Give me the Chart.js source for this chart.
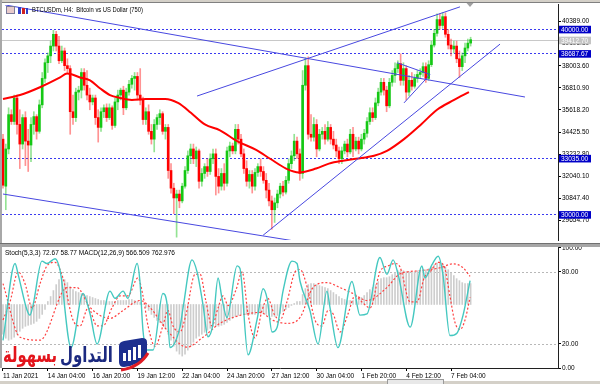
<!DOCTYPE html>
<html><head><meta charset="utf-8">
<script src="https://cdn.jsdelivr.net/npm/chart.js@4.4.1/dist/chart.umd.min.js"></script>
<style>
html,body{margin:0;padding:0;background:#fff;width:600px;height:384px;overflow:hidden;position:relative}
#c1{position:absolute;left:0;top:0;width:600px;height:245px}
#c2{position:absolute;left:0;top:243px;width:600px;height:141px}
</style></head><body>
<canvas id="c1" width="600" height="245"></canvas>
<canvas id="c2" width="600" height="141"></canvas>
<script>
// ---- price data (H4 candles, index 0 = 11 Jan 2021 12:00) ----
const openP = [34044,31506,33515,35366,34996,36265,34837,33779,35207,33938,
33726,34837,35260,34467,35895,37322,38168,38539,39067,39702,
39067,38274,38803,38010,37851,35524,35207,36582,36688,37640,
36952,36423,36053,36265,35207,34678,35524,35736,35207,35736,
34784,36053,36423,36688,35736,36582,37005,37322,37428,36423,
36159,35101,35524,34467,34044,34837,35207,35419,34467,34678,
32352,31400,30871,31083,30712,31506,32352,33145,33515,32986,
33409,31770,32193,32563,32299,32986,33251,32034,31506,32193,
31664,33409,33674,33409,34573,34044,33251,32457,31770,32140,
31506,32246,32563,32299,31823,31294,30712,30236,30607,31083,
31506,31188,31823,32722,33145,33938,33251,32193,36952,38010,
34308,34150,34837,33515,34308,34467,34044,34678,34044,33726,
33409,32986,33409,33779,33356,34308,33515,33938,33515,34044,
34361,34996,35472,35207,36000,36582,37111,36688,35842,37111,
37481,37851,38115,37217,37851,36582,37217,36899,37322,37534,
37640,37957,37322,38063,39120,39755,40495,40178,40654,39702,
39120,38909,39067,38380,37957,38539,38962,39226];
const highP = [34308,33779,35736,35630,36423,36423,35630,35366,35524,34573,
35207,35524,35366,36159,37640,38380,38697,39332,39913,39861,
39596,39067,38962,38380,38010,36423,36794,36899,37851,37851,
37745,36794,36423,36423,35630,35736,35895,35947,35947,35842,
36265,36688,36794,36899,36794,37217,37481,37640,37640,37851,
36318,35736,35895,34837,35101,35366,35630,35524,34837,34837,
32722,31664,31294,31294,31664,32563,33409,33779,33779,33621,
33515,32457,32722,32986,33251,33515,33515,32457,32457,32722,
33621,33885,33832,34837,34837,34308,33515,32880,32352,32352,
32457,32722,32986,32563,32193,31664,30977,30871,31294,31664,
31770,32034,32986,33409,34308,34150,33515,37745,38433,38486,
35366,35207,35101,34573,34678,34837,34996,34837,34467,34044,
33621,33621,33938,34044,34573,34678,34150,34150,34308,34573,
35207,35736,35736,36265,36794,37322,37322,36899,37322,37745,
38168,38274,38644,38168,38010,37481,37640,37534,37745,37851,
38168,38168,38274,39332,39966,40812,40812,40865,40865,39966,
39437,39332,39332,38803,38697,39226,39437,39543];
const lowP = [31400,30236,33251,34837,34837,34308,32457,33515,32616,32299,
32827,34308,34044,34361,35736,37111,37640,38168,38803,38803,
38115,38168,37745,37640,34308,34837,34996,36159,36265,36688,
36159,35630,35895,34837,33885,34467,35207,34996,35101,34573,
34678,35630,36159,35366,35630,36423,36794,36688,36159,35895,
34837,34837,34308,33779,33356,34573,34837,34308,34044,31929,
31135,30025,28756,30342,30607,31400,32193,32722,32722,32563,
31400,31506,31929,32034,32140,32722,31030,31135,31294,31294,
31506,33092,33251,33251,33779,33092,32193,31506,31400,31135,
31294,32034,32034,31664,30871,30448,29179,29549,30342,30871,
30977,31083,31664,32457,32880,32986,31823,31929,36688,34044,
33938,33938,33092,33409,34044,33779,33938,33779,33515,33092,
32722,32722,33251,33092,33251,33092,33409,33251,33409,33779,
34150,34837,34996,35101,35842,36423,36423,35524,35736,36899,
37111,37640,36952,36952,36159,36370,36688,36794,37111,37322,
37428,37111,37217,37957,39015,39596,39966,40019,39543,38909,
38539,38697,38168,37375,37745,38168,38803,39067];
const closeP = [31558,33515,35366,34996,36265,34837,33779,35207,33938,33726,
34837,35260,34467,35895,37322,38168,38539,39067,39702,39067,
38274,38803,38010,37851,35524,35207,36582,36688,37640,36952,
36423,36053,36265,35207,34678,35524,35736,35207,35736,34784,
36053,36423,36688,35736,36582,37005,37322,37428,36423,36159,
35101,35524,34467,34044,34837,35207,35419,34467,34678,32352,
31400,30871,31083,30712,31506,32352,33145,33515,32986,33409,
31770,32193,32563,32299,32986,33251,32034,31506,32193,31664,
33409,33674,33409,34573,34044,33251,32457,31770,32140,31506,
32246,32563,32299,31823,31294,30712,30236,30607,31083,31506,
31188,31823,32722,33145,33938,33251,32193,36952,38010,34308,
34150,34837,33515,34308,34467,34044,34678,34044,33726,33409,
32986,33409,33779,33356,34308,33515,33938,33515,34044,34361,
34996,35472,35207,36000,36582,37111,36688,35842,37111,37481,
37851,38115,37217,37851,36582,37217,36899,37322,37534,37640,
37957,37322,38063,39120,39755,40495,40178,40654,39702,39120,
38909,39067,38380,37957,38539,38962,39226,39412.7];

// moving average (red) read as points [candle index, price]
const maX = [0,6.1,13.2,20.4,22.9,27.5,31.1,34.6,38.2,41.8,46,51,57.9,62.5,67.1,72.1,77.5,83.6,90.4,95.4,101.1,105.7,111.8,116.4,121.4,126.1,132.5,137.1,143.2,149.3,155,161.1,166.4];
const maY = [36212,36423,36846,37375,37587,37375,37217,36794,36423,36265,36160,36210,36212,36000,35472,34837,34520,33938,33462,32986,32457,32246,32457,32722,32880,32986,33145,33409,34044,34837,35630,36159,36582];

// drawn trend lines [index1, price1, index2, price2]
const trendLines = [
  [0.7, 41288, 186.4, 36318],
  [0, 31083, 104.3, 28544],
  [92.9, 28861, 177.5, 39173],
  [69.3, 36370, 163.2, 41183],
  [140.7, 38168, 152.5, 37534],
  [143.2, 36000, 152.5, 37534]
];
const levelPrices = [40000.00, 38687.67, 33035.00, 30000.00];
const bidPrice = 39412.70;
const priceTicks = [40389.00, 39196.30, 38003.60, 36810.90, 35618.20, 34425.50, 33232.80, 32040.10, 30847.40, 29654.70];
const priceMin = 28597, priceMax = 41288;

// indicator data
const stochMainX = [0,4.3,5.4,8.6,9.6,10.7,13.9,15.7,18.6,20.4,24.3,28.6,31.1,33.6,38.2,40,42.9,44.6,47.9,48.9,50,51.4,53.6,57.1,58.6,59.6,63.2,64.3,67.5,69.3,71.4,73.2,75,76.8,78.2,80,83.6,84.6,87.5,90.7,92.9,94.3,96.1,97.9,100,103.2,105,106.1,109.6,112.5,115.7,116.8,119.6,124.6,127.5,130,134.6,137.1,139.3,141.1,145.4,149.6,150.7,153.2,155.4,157.1,159.6,162.1,164.3,166.8];
const stochMainY = [23,87,78,48,44,52,89,87,91,81,17,62,45,20,64,58,64,58,87,72,31,15,15,62,53,17,34,50,90,80,53,26,37,75,58,42,85,83,11,40,66,58,30,34,64,89,87,72,48,20,64,50,17,72,44,45,92,78,90,78,34,85,75,86,93,78,27,29,44,72.67];
const stochSigX = [0,2.5,5.4,7.9,10.4,13.2,15.7,18.6,21.4,25,27.5,30.4,33.6,35.7,38.9,41.8,44.6,48.2,50,51.8,54.3,57.1,58.9,60.7,63.2,65.4,68.6,70.4,72.5,74.6,76.8,78.6,80.4,83.2,85.4,87.5,90,92.5,94.6,96.8,98.9,101.4,104.3,106.1,108.9,111.4,113.9,116.1,117.9,120.4,123.2,125.7,128.2,131.1,134.6,137.5,140,141.8,145.4,147.9,150.4,152.5,155.4,157.5,159.6,161.4,163.2,165,166.8];
const stochSigY = [40,55,80,70,50,70,85,88,75,40,35,50,35,35,50,60,60,75,60,35,18,35,48,35,30,45,78,78,55,35,50,60,52,65,80,45,25,48,58,45,40,55,80,82,65,40,35,48,45,30,45,60,55,50,80,85,87,84,55,55,75,80,88,85,60,38,32,40,58.77];
const macdHist = [-810,-918,-972,-945,-891,-810,-729,-648,-594,-567,
-540,-513,-459,-378,-270,-135,81,216,378,540,
675,729,675,594,486,405,351,324,297,270,
243,216,189,162,135,108,108,81,81,81,
81,108,108,108,108,135,135,108,81,54,
0,-81,-162,-270,-351,-432,-486,-540,-648,-810,
-972,-1134,-1269,-1350,-1404,-1350,-1242,-1134,-1026,-918,
-864,-810,-756,-702,-648,-594,-594,-594,-567,-540,
-486,-432,-378,-324,-297,-270,-270,-270,-270,-270,
-270,-243,-243,-243,-270,-297,-324,-324,-297,-243,
-189,-135,-81,-27,27,81,81,270,432,540,
567,567,540,513,486,459,432,378,324,270,
216,162,135,108,108,108,135,162,189,243,
324,405,459,540,621,702,729,729,756,810,
864,918,918,918,891,891,891,891,918,918,
945,945,972,1026,1080,1134,1134,1107,1026,945,
864,783,702,648,594,567,567,566.509];
const macdSigX = [0,6.1,13.2,22.9,26.4,31.1,38.2,42.9,48.9,52.5,58.6,65.7,71.4,77.5,84.6,91.8,96.4,101.4,106.1,110.7,115.7,120.4,125,130,137.1,141.8,148.9,156.1,160.7,164.3,166.8];
const macdSigY = [567,-891,-972,459,459,-81,-378,-162,108,-81,-702,-1161,-891,-513,-297,-216,-432,-513,-351,459,594,459,297,108,459,837,918,999,1107,999,762.976];
const stochLevels = [80, 20];
const stochTicks = [100, 80, 20, 0];
const xTickIdx = [0,16,32,48,64,80,96,112,128,144,160];
const xTickLabels = ["11 Jan 2021","14 Jan 04:00","16 Jan 20:00","19 Jan 12:00","22 Jan 04:00","24 Jan 20:00","27 Jan 12:00","30 Jan 04:00","1 Feb 20:00","4 Feb 12:00","7 Feb 04:00"];
const titleText = "BTCUSDm, H4:  Bitcoin vs US Dollar (750)";
const indLabel = "Stoch(5,3,3) 72.67 58.77 MACD(12,26,9) 566.509 762.976";
const logoWords = ["التداول", "بسهولة"];

const xMin = -0.357, xMax = 198.2;
const FONT = '"Liberation Sans", Arial, sans-serif';
const idx = closeP.map((_, i) => i);
const isUp = idx.map(i => closeP[i] >= openP[i]);

function fitText(ctx, text, x, y, w, align) {
  const m = ctx.measureText(text).width;
  const s = w / m;
  ctx.save(); ctx.translate(x, y); ctx.scale(s, 1);
  ctx.textAlign = align || 'left'; ctx.fillText(text, 0, 0); ctx.restore();
}

const mainDeco = {
  id: 'mainDeco',
  beforeDatasetsDraw(chart) {
    const {ctx, chartArea: a, scales: {y}} = chart;
    ctx.save();
    ctx.beginPath(); ctx.rect(a.left, a.top, a.right - a.left, a.bottom - a.top); ctx.clip();
    let py = Math.round(y.getPixelForValue(bidPrice)) + 0.5;
    ctx.strokeStyle = '#c8c8c8'; ctx.lineWidth = 1;
    ctx.beginPath(); ctx.moveTo(a.left, py); ctx.lineTo(a.right, py); ctx.stroke();
    ctx.setLineDash([2, 2]); ctx.strokeStyle = '#3a3af0';
    levelPrices.forEach(p => {
      const yy = Math.round(y.getPixelForValue(p)) + 0.5;
      ctx.beginPath(); ctx.moveTo(a.left, yy); ctx.lineTo(a.right, yy); ctx.stroke();
    });
    ctx.restore();
  },
  afterDraw(chart) {
    const {ctx, scales: {y}} = chart;
    ctx.save();
    ctx.font = '6.5px ' + FONT; ctx.textBaseline = 'middle';
    const box = (p, bg, fg) => {
      const yy = y.getPixelForValue(p) + 0.8;
      ctx.fillStyle = bg; ctx.fillRect(559, yy - 3.8, 32, 7.6);
      ctx.fillStyle = fg; ctx.textAlign = 'left'; ctx.fillText(p.toFixed(2), 561, yy + 0.3);
    };
    box(bidPrice, '#c4c4c4', '#ffffff');
    levelPrices.forEach(p => box(p, '#0000c8', '#ffffff'));
    // frame
    ctx.fillStyle = '#d4d0c8'; ctx.fillRect(0, 0, 600, 2);
    ctx.fillStyle = '#808080'; ctx.fillRect(0, 2, 600, 1);
    ctx.fillStyle = '#a8a8a8'; ctx.fillRect(0, 0, 2, 245);
    // title icons
    ctx.fillStyle = '#e8caca'; ctx.fillRect(6, 6, 9, 8);
    ctx.strokeStyle = '#7a7a9a'; ctx.lineWidth = 1; ctx.strokeRect(6.5, 6.5, 8, 7);
    ctx.fillStyle = '#3040c8'; ctx.fillRect(18, 7, 3, 7); ctx.fillRect(26, 8, 2, 6);
    ctx.fillStyle = '#d02020'; ctx.fillRect(22, 8, 3, 6);
    ctx.fillStyle = '#000'; ctx.font = '7px ' + FONT; ctx.textBaseline = 'middle';
    fitText(ctx, titleText, 32, 10.5, 111, 'left');
    // chart shift marker
    ctx.fillStyle = '#a0a0a0';
    ctx.beginPath(); ctx.moveTo(466.5, 3); ctx.lineTo(473.5, 3); ctx.lineTo(470, 7); ctx.closePath(); ctx.fill();
    ctx.restore();
  }
};

const indDeco = {
  id: 'indDeco',
  beforeDatasetsDraw(chart) {
    const {ctx, chartArea: a, scales: {y}} = chart;
    ctx.save();
    ctx.setLineDash([2, 2]); ctx.strokeStyle = '#b8b8b8'; ctx.lineWidth = 1;
    stochLevels.forEach(v => {
      const yy = Math.round(y.getPixelForValue(v)) + 0.5;
      ctx.beginPath(); ctx.moveTo(a.left, yy); ctx.lineTo(a.right, yy); ctx.stroke();
    });
    ctx.restore();
  },
  afterDraw(chart) {
    const {ctx} = chart;
    ctx.save();
    // separator band
    ctx.fillStyle = '#a6a6a6'; ctx.fillRect(0, 0, 600, 4);
    ctx.fillStyle = '#707070'; ctx.fillRect(0, 0, 600, 1);
    ctx.fillStyle = '#a8a8a8'; ctx.fillRect(0, 4, 2, 121);
    // label
    ctx.fillStyle = '#000'; ctx.font = '7px ' + FONT; ctx.textBaseline = 'middle';
    fitText(ctx, indLabel, 5, 10.5, 170, 'left');
    // logo text
    ctx.textBaseline = 'alphabetic';
    ctx.font = 'bold 21px "DejaVu Sans", sans-serif';
    ctx.fillStyle = '#1c2a80';
    fitText(ctx, logoWords[0], 113, 119, 53, 'right');
    ctx.fillStyle = '#e3141b';
    fitText(ctx, logoWords[1], 57, 119, 54, 'right');
    // logo icon
    ctx.fillStyle = '#1d2f8f';
    ctx.beginPath();
    ctx.moveTo(119, 103); ctx.quadraticCurveTo(119, 99, 124, 98);
    ctx.lineTo(142, 95); ctx.quadraticCurveTo(147, 95, 147, 99);
    ctx.lineTo(147, 112); ctx.quadraticCurveTo(140, 122, 124, 124);
    ctx.quadraticCurveTo(119, 124, 119, 119); ctx.closePath(); ctx.fill();
    ctx.fillStyle = '#ffffff';
    [[123, 110, 8], [128, 107, 11], [133, 104, 13], [138, 102, 13]].forEach(b => ctx.fillRect(b[0], b[1], 3, b[2]));
    ctx.strokeStyle = '#e01b24'; ctx.lineWidth = 3;
    ctx.beginPath(); ctx.moveTo(121, 127); ctx.quadraticCurveTo(140, 124, 148, 110); ctx.stroke();
    // bottom band
    ctx.fillStyle = '#d4d0c8'; ctx.fillRect(0, 138, 600, 3);
    ctx.fillStyle = '#e8e8e8'; ctx.fillRect(387, 136, 56, 5);
    ctx.strokeStyle = '#9a9a9a'; ctx.lineWidth = 1; ctx.strokeRect(387.5, 136.5, 56, 5);
    ctx.restore();
  }
};

const lineDs = (xs, ys, extra) => Object.assign({
  type: 'line', data: xs.map((x, k) => ({x, y: ys[k]})),
  pointRadius: 0, borderWidth: 1, fill: false
}, extra);

new Chart(document.getElementById('c1'), {
  type: 'bar',
  data: {
    datasets: [
      lineDs(maX, maY, {borderColor: '#ff0000', borderWidth: 2, cubicInterpolationMode: 'monotone', order: 1}),
      ...trendLines.map(t => lineDs([t[0], t[2]], [t[1], t[3]], {borderColor: '#4848e0', borderWidth: 1, order: 0, clip: 0})),
      {type: 'bar', data: idx.map(i => ({x: i, y: [openP[i], closeP[i]]})),
        backgroundColor: idx.map(i => isUp[i] ? '#14c814' : '#ff0000'),
        barThickness: 2, minBarLength: 1, grouped: false, order: 3},
      {type: 'bar', data: idx.map(i => ({x: i, y: [lowP[i], highP[i]]})),
        backgroundColor: idx.map(i => isUp[i] ? 'rgba(40,200,40,0.5)' : 'rgba(255,40,40,0.5)'),
        barThickness: 1, grouped: false, order: 4}
    ]
  },
  options: {
    responsive: false, animation: false, devicePixelRatio: 1,
    layout: {padding: {left: 2, top: 3, right: 0, bottom: 2}},
    plugins: {legend: {display: false}, tooltip: {enabled: false}},
    scales: {
      x: {type: 'linear', display: false, min: xMin, max: xMax, offset: false, grid: {offset: false}},
      y: {position: 'right', min: priceMin, max: priceMax,
        afterFit(s) { s.width = 42; },
        afterBuildTicks(s) { s.ticks = priceTicks.map(v => ({value: v})); },
        ticks: {callback: v => Number(v).toFixed(2), font: {size: 6.5, family: FONT}, color: '#000', padding: 1},
        grid: {drawOnChartArea: false, drawTicks: true, tickLength: 3, color: '#000'},
        border: {display: true, color: '#202020'}}
    }
  },
  plugins: [mainDeco]
});

new Chart(document.getElementById('c2'), {
  type: 'bar',
  data: {
    datasets: [
      {type: 'bar', data: idx.map(i => ({x: i, y: macdHist[i]})), yAxisID: 'm',
        backgroundColor: '#cdcdcd', barThickness: 1, grouped: false, order: 5},
      lineDs(macdSigX, macdSigY, {yAxisID: 'm', borderColor: '#ff4040', borderWidth: 1.2, borderDash: [2, 2], cubicInterpolationMode: 'monotone', order: 2}),
      lineDs(stochSigX, stochSigY, {yAxisID: 'y', borderColor: '#ff4040', borderWidth: 1.2, borderDash: [2, 2], cubicInterpolationMode: 'monotone', order: 1}),
      lineDs(stochMainX, stochMainY, {yAxisID: 'y', borderColor: '#44c8c0', borderWidth: 1.4, cubicInterpolationMode: 'monotone', order: 0})
    ]
  },
  options: {
    responsive: false, animation: false, devicePixelRatio: 1,
    layout: {padding: {left: 2, top: 4, right: 0, bottom: 2}},
    plugins: {legend: {display: false}, tooltip: {enabled: false}},
    scales: {
      x: {type: 'linear', min: xMin, max: xMax, offset: false,
        afterFit(s) { s.height = 14; },
        afterBuildTicks(s) { s.ticks = xTickIdx.map(v => ({value: v})); },
        ticks: {callback: (v, i) => xTickLabels[i], align: 'start', maxRotation: 0, autoSkip: false,
          font: {size: 6.5, family: FONT}, color: '#000', padding: 1},
        grid: {drawOnChartArea: false, drawTicks: true, tickLength: 3, color: '#000', offset: false},
        border: {display: true, color: '#202020'}},
      y: {position: 'right', min: 0, max: 100,
        afterFit(s) { s.width = 42; },
        afterBuildTicks(s) { s.ticks = stochTicks.map(v => ({value: v})); },
        ticks: {callback: v => Number(v).toFixed(2), font: {size: 6.5, family: FONT}, color: '#000', padding: 1},
        grid: {drawOnChartArea: false, drawTicks: true, tickLength: 3, color: '#000'},
        border: {display: true, color: '#202020'}},
      m: {display: false, min: -1728, max: 1539}
    }
  },
  plugins: [indDeco]
});
</script>
</body></html>
